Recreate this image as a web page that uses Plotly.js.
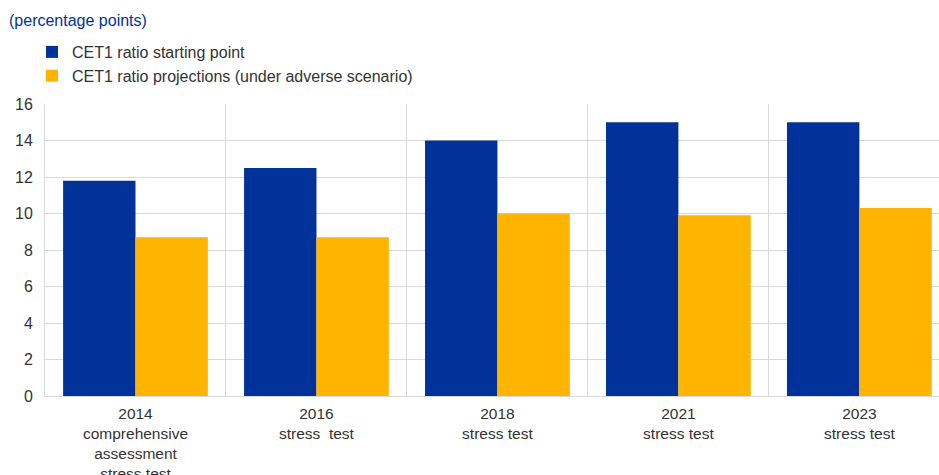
<!DOCTYPE html>
<html>
<head>
<meta charset="utf-8">
<script src="https://cdn.plot.ly/plotly-3.0.1.min.js"></script>
<style>
html,body{margin:0;padding:0;overflow:hidden;background:#fff;}
#chart{width:939px;height:475px;}
</style>
</head>
<body>
<div id="chart"></div>
<script>
const categories = [
  "2014<br>comprehensive<br>assessment<br>stress test",
  "2016<br>stress  test",
  "2018<br>stress test",
  "2021<br>stress test",
  "2023<br>stress test"
];
const startingPoint = [11.8, 12.5, 14.0, 15.0, 15.0];
const projections = [8.7, 8.7, 10.0, 9.9, 10.3];
const seriesNames = ["CET1 ratio starting point", "CET1 ratio projections (under adverse scenario)"];
const yTicks = [0, 2, 4, 6, 8, 10, 12, 14, 16];

const W = 939, H = 475;
const font = "Liberation Sans, Arial, sans-serif";
const traces = [
  {type: "bar", name: seriesNames[0], x: categories, y: startingPoint,
   marker: {color: "#003299"}},
  {type: "bar", name: seriesNames[1], x: categories, y: projections,
   marker: {color: "#FFB400"}}
];
const layout = {
  width: W, height: H,
  margin: {l: 45, r: 0, t: 104, b: 79, autoexpand: false},
  paper_bgcolor: "#fff", plot_bgcolor: "#fff",
  font: {family: font, size: 16, color: "#333"},
  barmode: "group", bargap: 0.2, bargroupgap: 0,
  showlegend: true,
  legend: {x: 32 / W, xref: "container", y: 1 - 64 / H, yref: "container", yanchor: "middle",
           xanchor: "left", orientation: "v", font: {family: font, size: 16, color: "#333"},
           tracegroupgap: 0, itemwidth: 30, bgcolor: "rgba(0,0,0,0)"},
  title: {text: "(percentage points)", x: 9 / W, xref: "container", xanchor: "left",
          y: 1 - 20 / H, yref: "container", yanchor: "middle",
          font: {family: font, size: 16, color: "#003299"}},
  xaxis: {type: "category", range: [-0.5, 4.44], tickson: "boundaries",
          showgrid: true, gridcolor: "#d9d9d9", gridwidth: 1,
          showline: true, linecolor: "#d9d9d9", linewidth: 1,
          ticks: "", ticklabelstandoff: 3, tickfont: {family: font, size: 15.5, color: "#333"},
          fixedrange: true, automargin: false},
  yaxis: {range: [0, 16], tickvals: yTicks, ticktext: yTicks.map(String),
          showgrid: true, gridcolor: "#d9d9d9", gridwidth: 1,
          showline: true, linecolor: "#d9d9d9", zeroline: false,
          ticks: "", ticklabelstandoff: 8, automargin: false,
          tickfont: {family: font, size: 16, color: "#333"}, fixedrange: true}
};
Plotly.newPlot("chart", traces, layout, {displayModeBar: false, staticPlot: true});
</script>
</body>
</html>
